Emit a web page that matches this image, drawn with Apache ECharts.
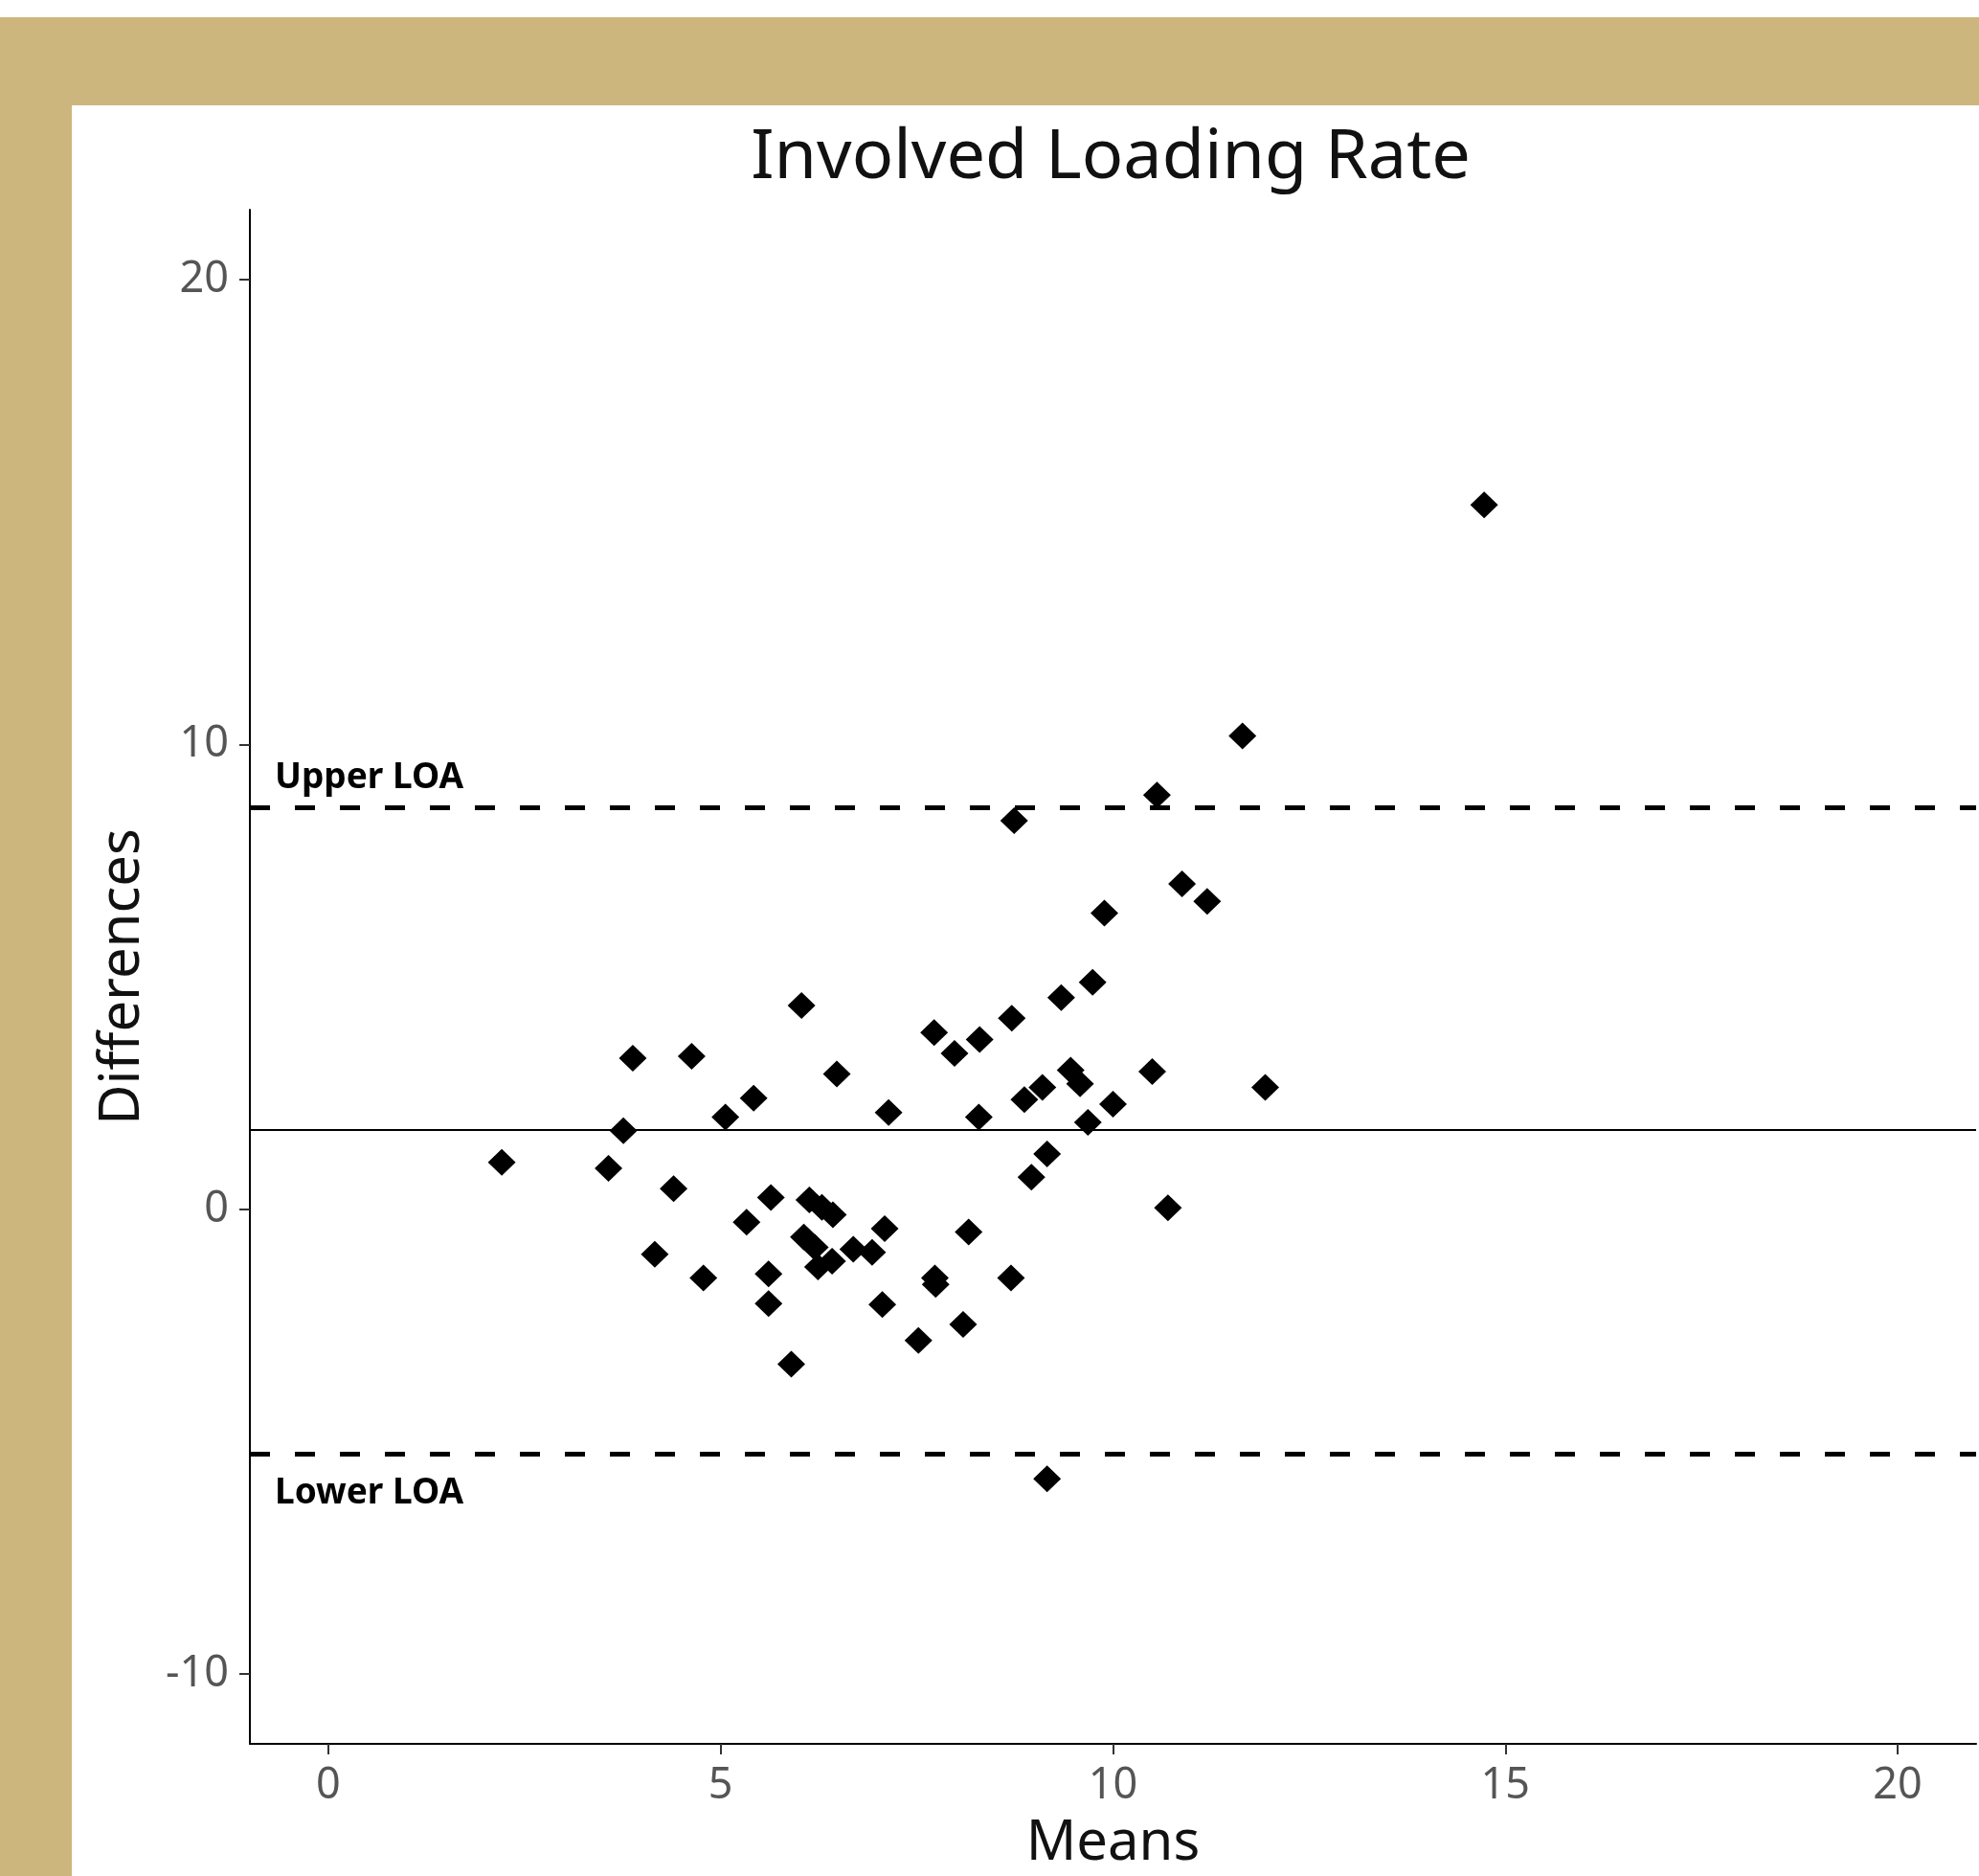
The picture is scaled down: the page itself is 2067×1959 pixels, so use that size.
<!DOCTYPE html>
<html>
<head>
<meta charset="utf-8">
<title>Involved Loading Rate</title>
<script src="https://cdn.jsdelivr.net/npm/echarts@6/dist/echarts.min.js"></script>
<style>
  html, body { margin: 0; padding: 0; background: #fff; }
  #chart { width: 2067px; height: 1959px; }
</style>
</head>
<body>
<div id="chart"></div>
<script>
// Bland-Altman plot: means vs differences
const means = [
  14.73, 11.65, 10.56, 8.74, 10.88, 11.20, 9.89, 9.74, 9.34, 6.03,
  8.71, 7.72, 8.30, 7.98, 3.88, 4.63, 6.48, 9.46, 9.58, 10.50,
  9.10, 8.87, 11.94, 5.42, 7.14, 5.06, 8.29, 10.00, 9.68, 3.76,
  9.16, 2.21, 3.57, 8.96, 4.40, 5.64, 6.13, 6.29, 6.43, 10.70,
  5.33, 7.09, 8.16, 6.06, 6.20, 6.69, 6.93, 4.16, 6.24, 6.42,
  5.61, 4.78, 7.73, 7.74, 8.70, 5.61, 7.06, 8.09, 7.52, 5.90,
  9.16
]
const differences = [
  15.15, 10.18, 8.91, 8.36, 7.00, 6.62, 6.37, 4.88, 4.55, 4.38,
  4.11, 3.80, 3.65, 3.35, 3.25, 3.29, 2.91, 2.99, 2.70, 2.96,
  2.62, 2.36, 2.62, 2.39, 2.08, 1.98, 1.98, 2.26, 1.87, 1.69,
  1.19, 1.01, 0.88, 0.69, 0.44, 0.25, 0.20, 0.04, -0.12, 0.03,
  -0.28, -0.42, -0.49, -0.60, -0.82, -0.86, -0.93, -0.97, -1.24, -1.12,
  -1.39, -1.48, -1.48, -1.62, -1.48, -2.03, -2.05, -2.48, -2.82, -3.33,
  -5.80
]

const meanDiff = 1.70
const upperLOA = 8.65
const lowerLOA = -5.26

const xTicks = [0, 5, 10, 15, 20]
const yTicks = [-10, 0, 10, 20]

const gold = '#CDB67D'
const tickColor = '#555'

const chart = echarts.init(document.getElementById('chart'))

const points = means.map((m, i) => [m, differences[i]])

const option = {
  backgroundColor: '#fff',
  animation: false,
  title: {
    text: 'Involved Loading Rate',
    left: 1155,
    top: 124,
    textAlign: 'center',
    textStyle: {
      fontFamily: 'Noto Sans',
      fontSize: 72,
      fontWeight: 'normal',
      color: '#111'
    }
  },
  graphic: [
    { type: 'rect', shape: { x: 0, y: 18, width: 2067, height: 92 }, style: { fill: gold }, silent: true },
    { type: 'rect', shape: { x: 0, y: 18, width: 75, height: 1941 }, style: { fill: gold }, silent: true }
  ],
  grid: { left: 261, right: 3, top: 219, bottom: 137 },
  xAxis: {
    type: 'value',
    min: -1,
    max: 21,
    name: 'Means',
    nameLocation: 'middle',
    nameGap: 75,
    nameTextStyle: { fontFamily: 'Noto Sans', fontSize: 58, color: '#111' },
    axisLine: { onZero: false, lineStyle: { color: '#000', width: 2 } },
    axisTick: { show: true, length: 11, customValues: xTicks, lineStyle: { color: '#333', width: 2 } },
    axisLabel: { customValues: xTicks, margin: 22, fontFamily: 'Noto Sans', fontSize: 45, color: tickColor },
    splitLine: { show: false }
  },
  yAxis: {
    type: 'value',
    min: -11.5,
    max: 21.5,
    name: 'Differences',
    nameLocation: 'middle',
    nameGap: 104,
    nameTextStyle: { fontFamily: 'Noto Sans', fontSize: 58, color: '#111' },
    axisLine: { show: true, onZero: false, lineStyle: { color: '#000', width: 2 } },
    axisTick: { show: true, length: 11, customValues: yTicks, lineStyle: { color: '#333', width: 2 } },
    axisLabel: { customValues: yTicks, margin: 22, fontFamily: 'Noto Sans', fontSize: 45, color: tickColor },
    splitLine: { show: false }
  },
  series: [
    {
      type: 'scatter',
      data: points,
      symbol: 'diamond',
      symbolSize: [29, 28],
      itemStyle: { color: '#000', opacity: 1 },
      z: 3,
      markLine: {
        silent: true,
        symbol: 'none',
        animation: false,
        data: [
          {
            yAxis: meanDiff,
            lineStyle: { type: 'solid', color: '#000', width: 2 },
            label: { show: false }
          },
          {
            yAxis: upperLOA,
            lineStyle: { type: [21, 26], color: '#000', width: 5 },
            label: {
              show: true,
              formatter: 'Upper LOA',
              position: 'insideStartTop',
              distance: [26, 12],
              fontFamily: 'Noto Sans',
              fontWeight: 'bold',
              fontSize: 37,
              color: '#000'
            }
          },
          {
            yAxis: lowerLOA,
            lineStyle: { type: [21, 26], color: '#000', width: 5 },
            label: {
              show: true,
              formatter: 'Lower LOA',
              position: 'insideStartBottom',
              distance: [26, 23],
              fontFamily: 'Noto Sans',
              fontWeight: 'bold',
              fontSize: 37,
              color: '#000'
            }
          }
        ]
      }
    }
  ]
}

chart.setOption(option)
window.addEventListener('resize', () => chart.resize())
</script>
</body>
</html>
